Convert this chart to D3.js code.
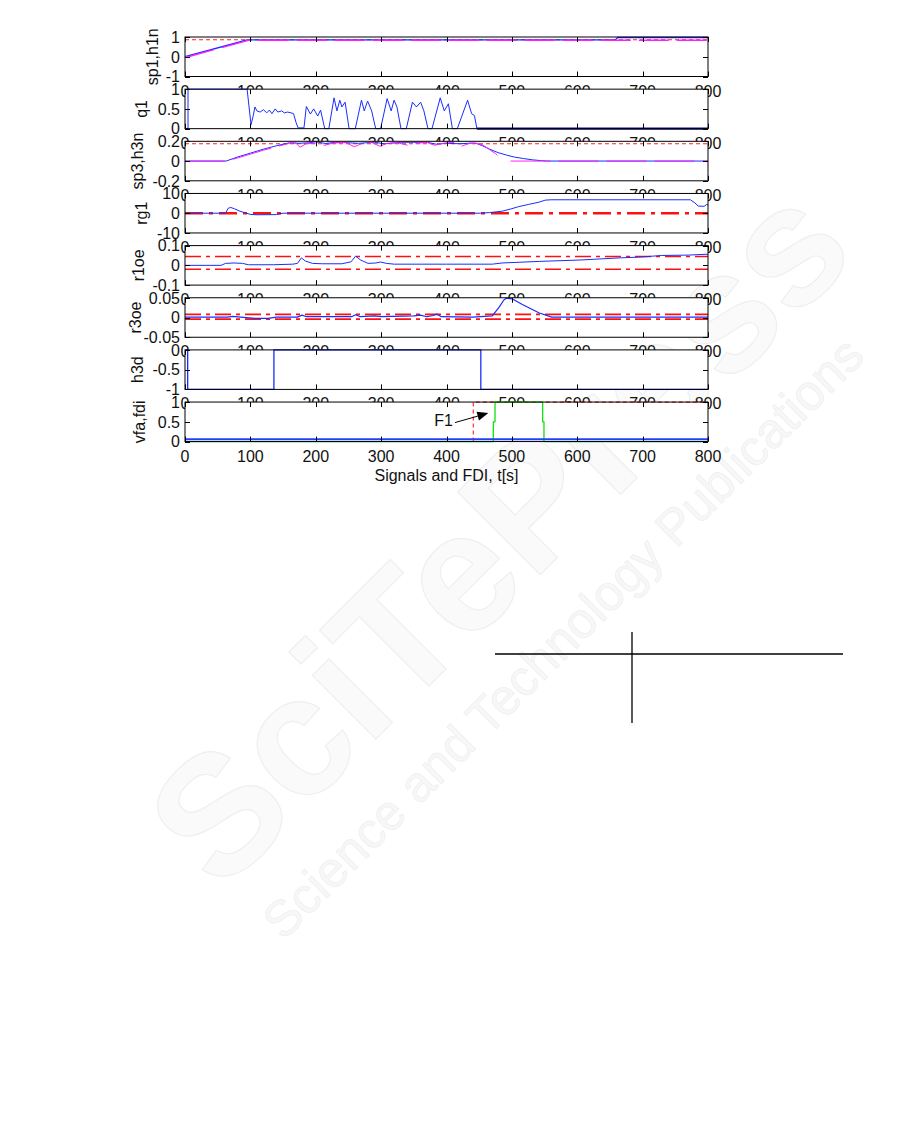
<!DOCTYPE html>
<html><head><meta charset="utf-8">
<script src="https://cdn.jsdelivr.net/npm/d3@7/dist/d3.min.js"></script>
<style>body{margin:0;background:#fff}svg{display:block}</style>
</head><body>
<svg id="c" width="901" height="1144"></svg>
<script>
// ---------------- data (t [s], value) ----------------
const xTicks = [0,100,200,300,400,500,600,700,800];

const sp1Ref = [[0,0.86],[800,0.86]];
const h1n = [[0,0],[95,0.855],[658,0.855],[662,0.975],[800,0.975]];
const sp1 = [[0,0],[5,0],[97,0.835],[800,0.835]];

const q1 = [[0,0],[4.6,0],[4.6,1],[95,1],[101,0.1],[104,0.3],[107,0.55],[110,0.45],[115,0.42],[120,0.48],[125,0.4],[129,0.47],[133,0.38],[138,0.5],[142,0.42],[148,0.45],[152,0.4],[157,0.42],[162,0.4],[166,0.38],[170,0.15],[173,0.02],[182,0.02],[185.6,0.56],[191.8,0.37],[196.8,0.5],[203,0.32],[207.4,0.47],[213.7,0],[220,0],[228,0.78],[232.4,0.45],[236.8,0.72],[240,0.55],[244.9,0.67],[251,0],[260.5,0],[269.9,0.72],[274.2,0.45],[279.3,0.7],[285.5,0.45],[291.7,0],[299.2,0],[309.2,0.76],[315.4,0.45],[319.8,0.72],[324.2,0.55],[330.4,0],[338.5,0],[347.9,0.67],[354.1,0.55],[360.4,0.67],[365.4,0.45],[371.7,0],[377.8,0],[390.4,0.78],[396.6,0.45],[402.9,0.63],[409,0],[416.5,0],[432.3,0.72],[438.4,0.38],[442.8,0.33],[446.5,0],[800,0]];
const q1Tail = [[446.5,0],[800,0]];

const sp3Ref = [[0,0.175],[800,0.175]];
const h3n = [[0,0],[63,0],[80,0.04],[100,0.08],[120,0.12],[140,0.155],[160,0.185],[175,0.18],[190,0.185],[200,0.195],[215,0.178],[230,0.19],[250,0.185],[265,0.18],[290,0.19],[305,0.175],[330,0.19],[350,0.19],[370,0.19],[385,0.17],[400,0.18],[420,0.175],[440,0.182],[445,0.18],[455,0.155],[466,0.12],[479,0.085],[492,0.06],[504,0.04],[518,0.025],[532,0.012],[545,0.004],[555,0],[800,0]];
const sp3 = [[0,0],[63,0],[80,0.03],[100,0.07],[120,0.11],[140,0.145],[160,0.18],[168,0.19],[176,0.14],[185,0.175],[200,0.18],[214,0.16],[225,0.18],[245,0.19],[259,0.145],[270,0.175],[285,0.19],[298,0.15],[310,0.18],[325,0.185],[341,0.16],[355,0.18],[370,0.19],[382,0.16],[395,0.18],[410,0.19],[423,0.15],[435,0.18],[445,0.18],[455,0.165],[466,0.115],[475,0.075],[485,0.01],[490,null],[498,0],[800,0]];

const rg1Ref = [[0,0],[800,0]];
const rg1 = [[0,0],[62,0],[66,2.5],[70,2.9],[76,2.2],[84,1],[92,0.2],[100,-0.6],[110,-0.8],[140,-0.7],[150,0],[452,0],[466,0.3],[485,1],[500,2.3],[510,3.3],[525,4.4],[541.6,5.6],[551,6.6],[560,6.8],[773,6.8],[780,5.2],[785,3.6],[794,3.5],[798,4.4],[800,4.2]];

const r1oeHi = [[0,0.045],[800,0.045]];
const r1oeLo = [[0,-0.02],[800,-0.02]];
const r1oe = [[0,0],[55,0],[62,0.01],[75,0.012],[88,0.01],[97,0.003],[135,0.003],[165,0.006],[172,0.01],[178,0.038],[184,0.022],[195,0.01],[210,0.008],[240,0.008],[254,0.018],[261,0.047],[268,0.028],[280,0.01],[292,0.012],[299,0.017],[308,0.01],[320,0.006],[400,0.006],[470,0.006],[485,0.012],[542,0.02],[604,0.027],[666,0.038],[697,0.042],[729,0.05],[770,0.052],[797,0.056],[800,0.056]];

const r3oeHi = [[0,0.008],[800,0.008]];
const r3oeLo = [[0,-0.004],[800,-0.004]];
const r3oe = [[0,0.001],[65,0.001],[73,0.003],[85,0.001],[107,-0.002],[127,-0.002],[140,0.001],[172,0.001],[179,0.006],[186,0.002],[255,0.002],[261,0.007],[268,0.002],[290,0.004],[300,0.002],[350,0.004],[360,0.006],[370,0.002],[380,0.005],[385,0.009],[392,0.002],[440,0.001],[470,0.004],[480,0.025],[488,0.045],[492,0.049],[501,0.047],[516,0.033],[529,0.022],[542,0.0115],[561,0.001],[800,0.001]];

const h3d = [[0,0],[4.1,0],[4.1,-1],[136,-1],[136,0],[452.5,0],[452.5,-1],[800,-1]];

const vfa = [[0,0.06],[800,0.06]];
const fdi = [[0,0],[471.6,0],[471.6,0.5],[474.2,0.5],[474.2,1],[547.1,1],[547.1,0.5],[549.1,0.5],[549.1,0],[800,0]];
const fault = [[441,0],[441,1],[800,1]];
const f1Arrow = [[413,0.48],[464,0.72]];
const f1Label = "F1";

// ---------------- layout ----------------
const svg = d3.select("#c");
const L = 185, R = 708, TOP0 = 37, PITCH = 52.15, PH = 39.5;
const FONT = "'Liberation Sans', Arial, Helvetica, sans-serif";
const x = d3.scaleLinear().domain([0, 800]).range([L, R]);

const panels = [
  {label:"sp1,h1n", ylim:[-1,1], yticks:[-1,0,1], fmt:d=>String(d), lx:158, series:[
    {d:sp1Ref, c:"#ff2020", w:1.2, dash:"4,3"},
    {d:h1n, c:"#1030ff", w:1.3},
    {d:sp1, c:"#ff20ff", w:1.3, dash:"30,8"}]},
  {label:"q1", ylim:[0,1], yticks:[0,0.5,1], fmt:d=>String(d), lx:147, series:[
    {d:q1, c:"#1a2cff", w:1},
    {d:q1Tail, c:"#101080", w:2.2}]},
  {label:"sp3,h3n", ylim:[-0.2,0.2], yticks:[-0.2,0,0.2], fmt:d=>String(d), lx:143, series:[
    {d:sp3Ref, c:"#ff2020", w:1.2, dash:"4,3"},
    {d:h3n, c:"#1030ff", w:1},
    {d:sp3, c:"#ff20ff", w:1, dash:"40,8"}]},
  {label:"rg1", ylim:[-10,10], yticks:[-10,0,10], fmt:d=>String(d), lx:147, series:[
    {d:rg1Ref, c:"#ff1010", w:2.6, dash:"18,6,4,6"},
    {d:rg1, c:"#1a2cff", w:1}]},
  {label:"r1oe", ylim:[-0.1,0.1], yticks:[-0.1,0,0.1], fmt:d=>String(d), lx:144, series:[
    {d:r1oeHi, c:"#ff1010", w:1.6, dash:"16,5,4,5"},
    {d:r1oeLo, c:"#ff1010", w:1.6, dash:"16,5,4,5"},
    {d:r1oe, c:"#1a2cff", w:1}]},
  {label:"r3oe", ylim:[-0.05,0.05], yticks:[-0.05,0,0.05], fmt:d=>String(d), lx:141, series:[
    {d:r3oeHi, c:"#ff1010", w:1.8, dash:"16,5,4,5"},
    {d:r3oeLo, c:"#ff1010", w:1.8, dash:"16,5,4,5"},
    {d:r3oe, c:"#1a2cff", w:1.2}]},
  {label:"h3d", ylim:[-1,0], yticks:[-1,-0.5,0], fmt:d=>String(d), lx:143, series:[
    {d:h3d, c:"#1a2cff", w:1.3}]},
  {label:"vfa,fdi", ylim:[0,1], yticks:[0,0.5,1], fmt:d=>String(d), lx:145, series:[
    {d:fault, c:"#ff3030", w:1.2, dash:"4,3"},
    {d:fdi, c:"#10e010", w:1.3},
    {d:vfa, c:"#2040ff", w:2}]}
];

// faint watermark (publisher stamp in the background)
const wm = svg.append("g").attr("pointer-events","none");
wm.append("text").attr("transform","translate(540,575) rotate(-45)")
  .attr("text-anchor","middle").attr("font-family",FONT).attr("font-size",170).attr("font-weight","bold")
  .attr("fill","#fafafa").attr("stroke","#efefef").attr("stroke-width",1.2).text("SciTePress");
wm.append("text").attr("transform","translate(575,650) rotate(-45)")
  .attr("text-anchor","middle").attr("font-family",FONT).attr("font-size",50)
  .attr("fill","#f7f7f7").attr("stroke","#efefef").attr("stroke-width",0.8).text("Science and Technology Publications");

const defs = svg.append("defs");

panels.forEach((p, i) => {
  const top = TOP0 + i * PITCH, bot = top + PH;
  const y = d3.scaleLinear().domain(p.ylim).range([bot, top]);
  const g = svg.append("g");
  // white axes background (covers tick labels of the panel above, like MATLAB)
  g.append("rect").attr("x", L).attr("y", top).attr("width", R - L).attr("height", PH).attr("fill", "#fff");
  defs.append("clipPath").attr("id", "cp" + i).append("rect")
    .attr("x", L - 1).attr("y", top - 1.5).attr("width", R - L + 2).attr("height", PH + 3);
  const dg = g.append("g").attr("clip-path", `url(#cp${i})`);
  const line = d3.line().defined(d => d[1] !== null).x(d => x(d[0])).y(d => y(d[1]));
  p.series.forEach(s => {
    dg.append("path").attr("d", line(s.d)).attr("fill", "none")
      .attr("stroke", s.c).attr("stroke-width", s.w)
      .attr("stroke-dasharray", s.dash || null).attr("stroke-linejoin","round");
  });
  // axes
  const ax = g.append("g").attr("stroke", "#000").attr("stroke-width", 1).attr("fill","none");
  ax.append("rect").attr("x", L).attr("y", top).attr("width", R - L).attr("height", PH);
  const tl = 5;
  xTicks.forEach(t => {
    const xx = Math.round(x(t)) + 0.5;
    ax.append("line").attr("x1", xx).attr("x2", xx).attr("y1", bot).attr("y2", bot - tl);
    ax.append("line").attr("x1", xx).attr("x2", xx).attr("y1", top).attr("y2", top + tl);
  });
  p.yticks.forEach(v => {
    const yy = Math.round(y(v)) + 0.5;
    ax.append("line").attr("x1", L).attr("x2", L + tl).attr("y1", yy).attr("y2", yy);
    ax.append("line").attr("x1", R).attr("x2", R - tl).attr("y1", yy).attr("y2", yy);
  });
  // x tick labels
  g.selectAll(".xl").data(xTicks).join("text")
    .attr("x", d => x(d)).attr("y", bot + 20).attr("text-anchor", "middle")
    .attr("font-family", FONT).attr("font-size", 16).attr("fill", "#111").text(d => d);
  // y tick labels
  g.selectAll(".yl").data(p.yticks).join("text")
    .attr("x", L - 5).attr("y", d => y(d)).attr("dy", "0.36em").attr("text-anchor", "end")
    .attr("font-family", FONT).attr("font-size", 16).attr("fill", "#111").text(p.fmt);
  // y label
  g.append("text").attr("transform", `translate(${p.lx},${(top + bot) / 2}) rotate(-90)`)
    .attr("text-anchor", "middle").attr("font-family", FONT).attr("font-size", 16).attr("fill", "#111")
    .text(p.label);

  if (i === panels.length - 1) {
    // F1 annotation with arrow
    const [a, b] = f1Arrow;
    const x1 = x(a[0]), y1 = y(a[1]), x2 = x(b[0]), y2 = y(b[1]);
    const ang = Math.atan2(y2 - y1, x2 - x1), hl = 11, hw = 4.5;
    const bx = x2 - hl * Math.cos(ang), by = y2 - hl * Math.sin(ang);
    g.append("line").attr("x1", x1).attr("y1", y1).attr("x2", bx).attr("y2", by)
      .attr("stroke", "#000").attr("stroke-width", 1);
    g.append("polygon").attr("points", [
      [x2, y2],
      [bx + hw * Math.sin(ang), by - hw * Math.cos(ang)],
      [bx - hw * Math.sin(ang), by + hw * Math.cos(ang)]].map(q => q.join(",")).join(" "))
      .attr("fill", "#000");
    g.append("text").attr("x", x1 - 2).attr("y", y1 + 3).attr("text-anchor", "end")
      .attr("font-family", FONT).attr("font-size", 16).attr("fill", "#111").text(f1Label);
    // x label
    g.append("text").attr("x", (L + R) / 2).attr("y", bot + 39).attr("text-anchor", "middle")
      .attr("font-family", FONT).attr("font-size", 16).attr("fill", "#111").text("Signals and FDI, t[s]");
  }
});

// table rule fragments below the figure
svg.append("line").attr("x1", 495).attr("x2", 843).attr("y1", 654).attr("y2", 654).attr("stroke", "#000").attr("stroke-width", 1.3);
svg.append("line").attr("x1", 632).attr("x2", 632).attr("y1", 632).attr("y2", 723).attr("stroke", "#000").attr("stroke-width", 1.3);
</script>
</body></html>
